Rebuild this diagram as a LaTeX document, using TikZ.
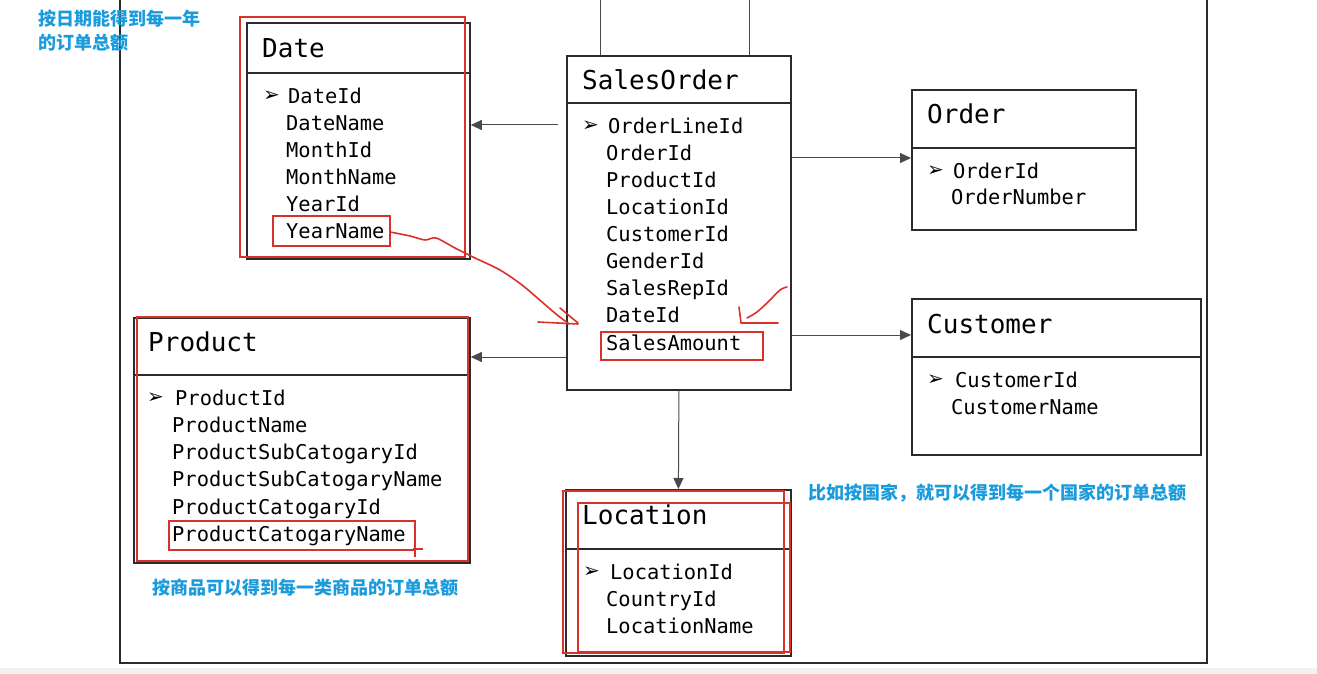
\documentclass[tikz,border=0pt]{standalone}
\usepackage{fontspec}
\setmonofont{DejaVu Sans Mono}
\newfontfamily\cjk{Noto Sans CJK SC}
\newfontfamily\dejavu{DejaVu Sans}
\usepackage{xcolor}
\usetikzlibrary{arrows.meta}
\definecolor{boxink}{HTML}{2B2B2B}
\definecolor{lineink}{HTML}{4A4A4A}
\definecolor{markred}{HTML}{D8322A}
\definecolor{noteblue}{HTML}{1A9BDC}
\tikzset{
  entbox/.style={draw=boxink,line width=1.8pt,anchor=north west,inner sep=0pt},
  headline/.style={draw=boxink,line width=1.8pt},
  title/.style={anchor=mid west,inner sep=0pt,yshift=-7pt,font=\ttfamily\fontsize{26}{28}\selectfont},
  field/.style={anchor=mid west,inner sep=0pt,yshift=-6pt,font=\ttfamily\fontsize{20.4}{22}\selectfont},
  keymark/.style={anchor=mid west,inner sep=0pt,yshift=-4pt,font=\dejavu\fontsize{20}{22}\selectfont},
  link/.style={draw=lineink,line width=1pt},
  conn/.style={link,-{Triangle[length=11pt,width=10pt]}},
  redmark/.style={draw=markred,line width=2.2pt},
  scribble/.style={draw=markred,line width=1.6pt,line cap=round,line join=round},
  note/.style={anchor=west,inner sep=0pt,align=left,text=noteblue,
    font=\cjk\bfseries\fontsize{18}{24}\selectfont}
}

\begin{document}
\begin{tikzpicture}[x=1pt,y=-1pt]
  \useasboundingbox (0,0) rectangle (1317,674);
  \fill[gray!10] (0,668) rectangle (1317,674);
  % frame of the slide
  \draw[line width=1.5pt,boxink] (120,0) -- (120,663) -- (1207,663) -- (1207,0);

  % Date
  \node[entbox,minimum width=223pt,minimum height=236pt] (date) at (246,22) {};
  \draw[headline] ([yshift=-51pt]date.north west) -- ([yshift=-51pt]date.north east);
  \node[title] (datetitle) at (262,48) {Date};
  \node[keymark] (datekey) at (263,95) {➢};
  \node[field] (date1) at (288,95) {DateId};
  \foreach \f [count=\i from 2] in {DateName,MonthId,MonthName,YearId,YearName}
    \node[field] (date\i) at (286,68+27*\i) {\f};

  % SalesOrder
  \node[entbox,minimum width=224pt,minimum height=334pt] (sales) at (566,55) {};
  \draw[headline] ([yshift=-48pt]sales.north west) -- ([yshift=-48pt]sales.north east);
  \node[title] (salestitle) at (582,80) {SalesOrder};
  \node[keymark] (saleskey) at (582,125) {➢};
  \node[field] (sales1) at (608,125) {OrderLineId};
  \foreach \f [count=\i from 2] in {OrderId,ProductId,LocationId,CustomerId,GenderId,SalesRepId,DateId,SalesAmount}
    \node[field] (sales\i) at (606,98+27.1*\i) {\f};

  % Order
  \node[entbox,minimum width=224pt,minimum height=140pt] (order) at (911,89) {};
  \draw[headline] ([yshift=-59pt]order.north west) -- ([yshift=-59pt]order.north east);
  \node[title] (ordertitle) at (927,114) {Order};
  \node[keymark] (orderkey) at (927,170) {➢};
  \node[field] (order1) at (953,170) {OrderId};
  \node[field] (order2) at (951,196) {OrderNumber};

  % Customer
  \node[entbox,minimum width=289pt,minimum height=156pt] (cust) at (911,298) {};
  \draw[headline] ([yshift=-59pt]cust.north west) -- ([yshift=-59pt]cust.north east);
  \node[title] (custtitle) at (927,324) {Customer};
  \node[keymark] (custkey) at (927,379) {➢};
  \node[field] (cust1) at (955,379) {CustomerId};
  \node[field] (cust2) at (951,406) {CustomerName};

  % Product
  \node[entbox,minimum width=336pt,minimum height=245pt] (prod) at (133,317) {};
  \draw[headline] ([yshift=-58pt]prod.north west) -- ([yshift=-58pt]prod.north east);
  \node[title] (prodtitle) at (148,342) {Product};
  \node[keymark] (prodkey) at (147,397) {➢};
  \node[field] (prod1) at (175,397) {ProductId};
  \foreach \f [count=\i from 2] in {ProductName,ProductSubCatogaryId,ProductSubCatogaryName,ProductCatogaryId,ProductCatogaryName}
    \node[field] (prod\i) at (172,370+27.2*\i) {\f};

  % Location
  \node[entbox,minimum width=225pt,minimum height=166pt] (loc) at (565,489) {};
  \draw[headline] ([yshift=-60pt]loc.north west) -- ([yshift=-60pt]loc.north east);
  \node[title] (loctitle) at (582,515) {Location};
  \node[keymark] (lockey) at (583,571) {➢};
  \node[field] (loc1) at (610,571) {LocationId};
  \foreach \f [count=\i from 2] in {CountryId,LocationName}
    \node[field] (loc\i) at (606,544+27*\i) {\f};

  % connectors
  \coordinate (top1) at (600,0);
  \coordinate (top2) at (749,0);
  \draw[link] (top1) -- (top1 |- sales.north);
  \draw[link] (top2) -- (top2 |- sales.north);
  \draw[conn] ([xshift=-8pt]sales.west |- 0,125) -- (date.east |- 0,125);
  \draw[conn] (sales.west |- 0,357) -- (prod.east |- 0,357);
  \draw[conn] (sales.east |- 0,158) -- (order.west |- 0,158);
  \draw[conn] (sales.east |- 0,335) -- (cust.west |- 0,335);
  \draw[conn] (sales.south) -- (loc.north);

  % red marks
  \draw[redmark] (240,17) rectangle (465,257);
  \draw[redmark] (273,216) rectangle (390,246);
  \draw[redmark] (601,332) rectangle (763,360);
  \draw[redmark] (137,317) rectangle (468,561);
  \draw[redmark] (169,521) rectangle (415,550);
  \draw[redmark] (413,549) -- (423,549) (415,544) -- (415,557);
  \draw[redmark] (563,491) rectangle (784,653);
  \draw[redmark] (578,503) rectangle (790,652);
  \draw[scribble] plot[smooth] coordinates {(390,232) (410,236) (425,240) (436,238) (455,248) (475,258) (500,270) (522,285) (542,302) (556,314) (569,324)};
  \draw[scribble] (538,322) -- (578,324) (560,308) -- (578,323);
  \draw[scribble] plot[smooth] coordinates {(787,287) (780,290) (768,302) (757,312) (747,318)};
  \draw[scribble] (739,307) -- (741,323) -- (778,323);

  % notes
  \node[note] (notedate) at (38,31) {按日期能得到每一年\\的订单总额};
  \node[note] (noteprod) at (152,588) {按商品可以得到每一类商品的订单总额};
  \node[note] (noteloc) at (808,493) {比如按国家，就可以得到每一个国家的订单总额};
\end{tikzpicture}
\end{document}
